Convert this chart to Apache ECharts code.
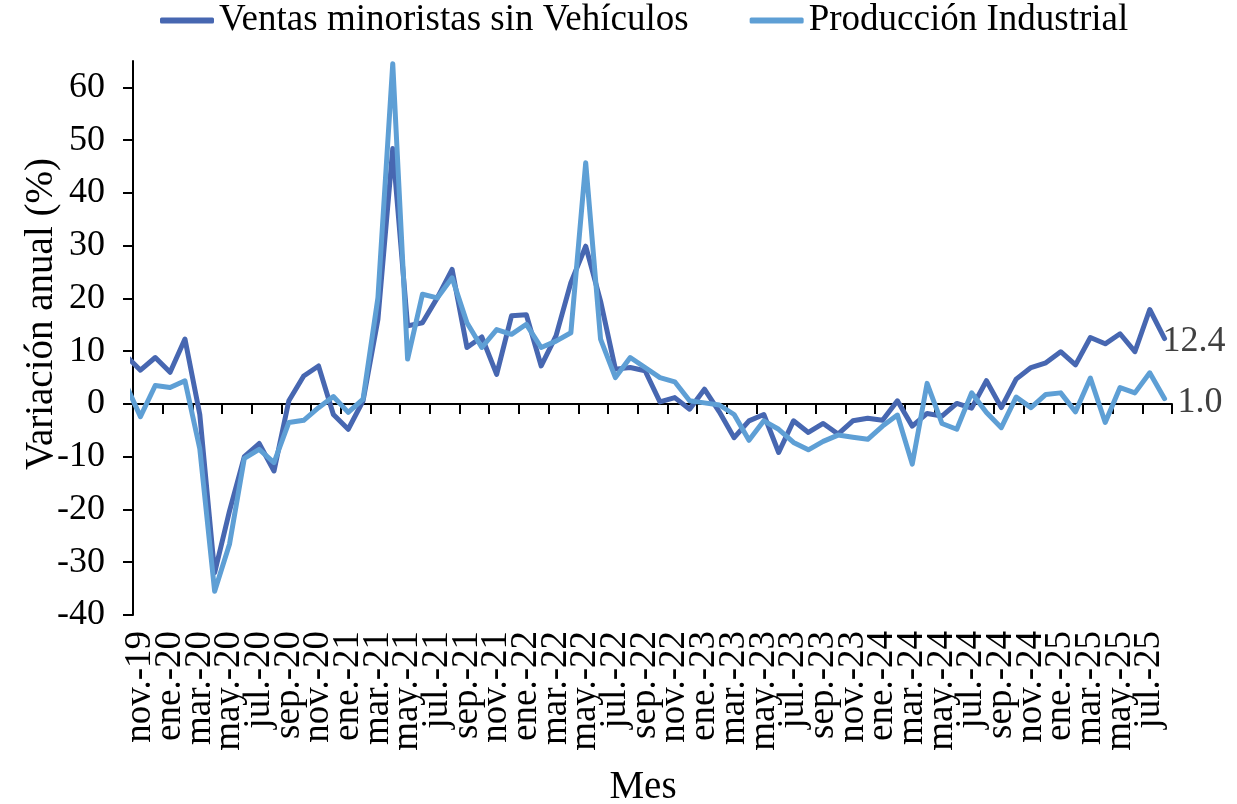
<!DOCTYPE html>
<html>
<head>
<meta charset="utf-8">
<script src="https://cdn.jsdelivr.net/npm/echarts@6/dist/echarts.min.js"></script>
<style>
html,body{margin:0;padding:0;background:#fff;}
#chart{width:1237px;height:804px;}
</style>
</head>
<body>
<div id="chart"></div>
<script>
// Month labels (nov.-19 ... ago.-25); every second one is shown
const categories = [
  "nov.-19","dic.-19",
  "ene.-20","feb.-20","mar.-20","abr.-20","may.-20","jun.-20","jul.-20","ago.-20","sep.-20","oct.-20","nov.-20","dic.-20",
  "ene.-21","feb.-21","mar.-21","abr.-21","may.-21","jun.-21","jul.-21","ago.-21","sep.-21","oct.-21","nov.-21","dic.-21",
  "ene.-22","feb.-22","mar.-22","abr.-22","may.-22","jun.-22","jul.-22","ago.-22","sep.-22","oct.-22","nov.-22","dic.-22",
  "ene.-23","feb.-23","mar.-23","abr.-23","may.-23","jun.-23","jul.-23","ago.-23","sep.-23","oct.-23","nov.-23","dic.-23",
  "ene.-24","feb.-24","mar.-24","abr.-24","may.-24","jun.-24","jul.-24","ago.-24","sep.-24","oct.-24","nov.-24","dic.-24",
  "ene.-25","feb.-25","mar.-25","abr.-25","may.-25","jun.-25","jul.-25","ago.-25"
];

// Series values, first value is oct.-19 (partly outside the plot, clipped)
const ventasMinoristas = [
  9.2,
  6.4, 8.8,
  6.0, 12.3, -2.0, -32.0, -20.3, -10.0, -7.5, -12.7, 0.6, 5.3, 7.2, -2.0,
  -4.8, 0.6, 16.0, 48.4, 14.8, 15.4, 20.1, 25.5, 10.7, 12.7, 5.6, 16.7,
  16.9, 7.2, 12.9, 23.0, 29.9, 19.5, 6.6, 6.9, 6.3, 0.4, 1.2, -1.0,
  2.8, -1.5, -6.4, -3.2, -2.0, -9.2, -3.2, -5.4, -3.7, -5.7, -3.2, -2.7,
  -3.1, 0.6, -4.2, -1.8, -2.3, 0.1, -0.8, 4.4, -0.7, 4.7, 6.9, 7.8,
  9.9, 7.4, 12.6, 11.4, 13.3, 9.9, 17.9, 12.4
];
const produccionIndustrial = [
  3.8,
  -2.4, 3.5,
  3.1, 4.4, -8.5, -35.5, -26.6, -10.3, -8.6, -11.1, -3.5, -3.1, -0.7, 1.4,
  -1.6, 0.9, 20.1, 64.5, 8.5, 20.8, 20.1, 23.9, 15.4, 10.7, 14.1, 13.2,
  15.1, 10.7, 11.9, 13.5, 45.7, 12.3, 5.0, 8.8, 6.9, 5.0, 4.2, 0.6,
  0.2, -0.2, -2.0, -6.9, -3.2, -4.8, -7.3, -8.7, -7.1, -5.9, -6.3, -6.7,
  -4.2, -2.1, -11.4, 3.9, -3.7, -4.8, 2.1, -1.6, -4.5, 1.3, -0.7, 1.8,
  2.1, -1.5, 4.9, -3.5, 3.1, 2.1, 5.9, 1.0
];

const yTicks = [-40, -30, -20, -10, 0, 10, 20, 30, 40, 50, 60];
const xTickPositions = [];
for (let k = 0; k <= 35; k++) xTickPositions.push(-0.5 + 2 * k);

const FONT = "'Liberation Serif', 'DejaVu Serif', serif";
const DARK = '#4767B1';
const LIGHT = '#5E9FD5';

function toPoints(arr) { return arr.map((v, k) => [k - 1, v]); }

const chart = echarts.init(document.getElementById('chart'), null, {renderer: 'canvas'});
chart.setOption({
  animation: false,
  backgroundColor: '#fff',
  textStyle: {fontFamily: FONT},
  legend: {
    left: 160, top: 2, padding: 0,
    itemWidth: 54, itemHeight: 6, itemGap: 61,
    icon: 'roundRect',
    textStyle: {fontSize: 37, color: '#000', fontFamily: FONT},
    data: ['Ventas minoristas sin Vehículos', 'Producción Industrial']
  },
  grid: {left: 133, right: 65, top: 61, bottom: 189, containLabel: false},
  xAxis: [
    {
      type: 'value', min: -0.5, max: 69.5, interval: 2,
      axisLine: {show: true, onZero: true, lineStyle: {color: '#000', width: 2}},
      axisTick: {show: true, length: 10, customValues: xTickPositions, lineStyle: {color: '#000', width: 2}},
      axisLabel: {show: false},
      splitLine: {show: false}
    },
    {
      type: 'category', data: categories, position: 'bottom', boundaryGap: true,
      axisLine: {show: false, onZero: false},
      axisTick: {show: false},
      axisLabel: {interval: 0, rotate: 90, fontSize: 37, lineHeight: 26, color: '#000', margin: 16,
        padding: [14, 0, 0, 0],
        fontFamily: FONT, showMinLabel: true, showMaxLabel: true, hideOverlap: false,
        formatter: (val, idx) => (idx % 2 === 0 ? val : '')},
      splitLine: {show: false}
    }
  ],
  yAxis: {
    type: 'value', min: -40, max: 65, interval: 10,
    axisLine: {show: true, onZero: false, lineStyle: {color: '#000', width: 2}},
    axisTick: {show: true, length: 10, customValues: yTicks, lineStyle: {color: '#000', width: 2}},
    axisLabel: {customValues: yTicks, fontSize: 36, color: '#000', margin: 28, fontFamily: FONT},
    splitLine: {show: false}
  },
  graphic: [
    {type: 'text', x: 42, y: 314, rotation: Math.PI / 2,
     style: {text: 'Variación anual (%)', font: '39px ' + FONT, fill: '#000', textAlign: 'center', textVerticalAlign: 'middle'}},
    {type: 'text', x: 643, y: 788,
     style: {text: 'Mes', font: '39px ' + FONT, fill: '#000', textAlign: 'center', textVerticalAlign: 'middle'}}
  ],
  series: [
    {
      name: 'Ventas minoristas sin Vehículos', type: 'line', xAxisIndex: 0,
      data: toPoints(ventasMinoristas), symbol: 'none', clip: true,
      color: DARK,
      lineStyle: {width: 5, color: DARK, join: 'round', cap: 'round'},
      endLabel: {show: true, distance: -2, offset: [0, 3], fontSize: 36, color: '#404040', fontFamily: FONT,
        formatter: p => p.value[1].toFixed(1)}
    },
    {
      name: 'Producción Industrial', type: 'line', xAxisIndex: 0,
      data: toPoints(produccionIndustrial), symbol: 'none', clip: true,
      color: LIGHT,
      lineStyle: {width: 5, color: LIGHT, join: 'round', cap: 'round'},
      endLabel: {show: true, distance: 13, offset: [0, 4], fontSize: 36, color: '#404040', fontFamily: FONT,
        formatter: p => p.value[1].toFixed(1)}
    }
  ]
});
</script>
</body>
</html>
